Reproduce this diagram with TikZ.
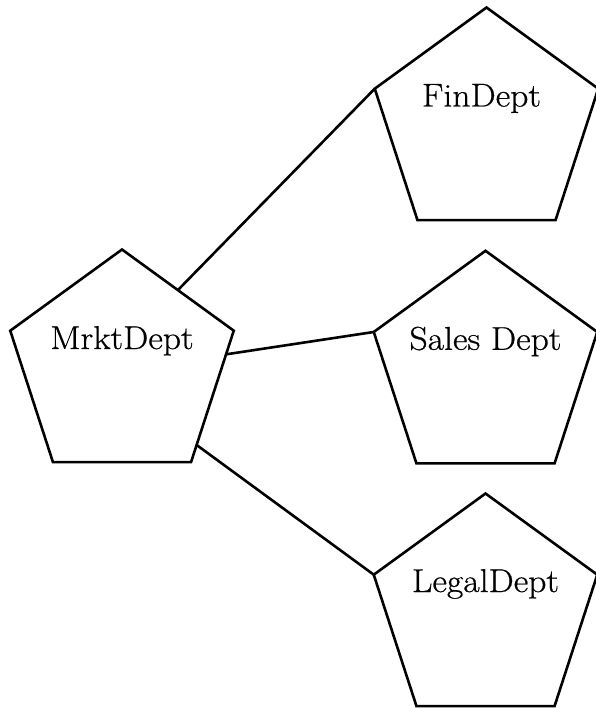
\documentclass[tikz,border=0pt]{standalone}
\usepackage{fontspec}
\setmainfont{Latin Modern Roman}[FakeStretch=1.08, FakeBold=0.6]
\usetikzlibrary{shapes.geometric,calc}
\begin{document}
\begin{tikzpicture}[x=1pt,y=-1pt,
  dept/.style={regular polygon, regular polygon sides=5, draw, line width=2.6pt,
    minimum size=235pt, inner sep=0pt, outer sep=0pt, line join=miter},
  lbl/.style={font=\fontsize{33}{36}\selectfont, anchor=base, inner sep=0pt},
  link/.style={line width=2.6pt}]
\useasboundingbox (0,0) rectangle (595,708);
\node[dept] (fin) at (486.5,125) {};
\node[dept] (mrkt) at (122,367) {};
\node[dept] (sales) at (485.5,368.3) {};
\node[dept] (legal) at (485.5,611) {};
\node[lbl] (tfin) at ([xshift=-5pt,yshift=18.5pt]fin.center) {FinDept};
\node[lbl] (tmrkt) at ([yshift=18pt]mrkt.center) {MrktDept};
\node[lbl] (tsales) at ([yshift=18.5pt]sales.center) {Sales Dept};
\node[lbl] (tlegal) at ([yshift=19pt]legal.center) {LegalDept};
\draw[link] (mrkt.side 5) -- (fin.corner 2);
\draw[link] ($(mrkt.corner 5)!0.18!(mrkt.corner 4)$) -- (sales.corner 2);
\draw[link] ($(mrkt.corner 5)!0.87!(mrkt.corner 4)$) -- (legal.corner 2);
\end{tikzpicture}
\end{document}
